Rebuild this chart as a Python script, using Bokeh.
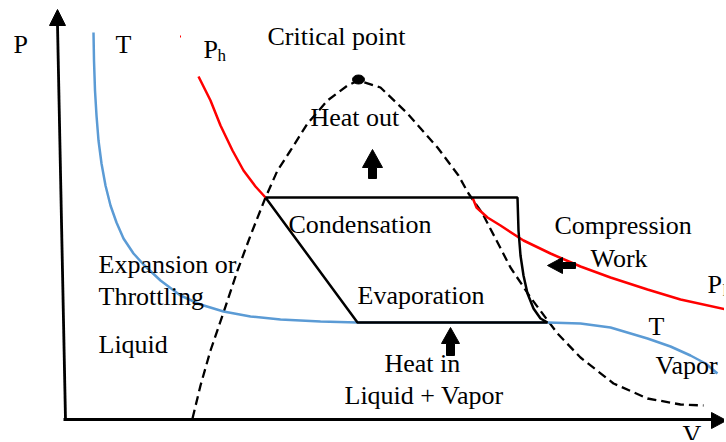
from bokeh.plotting import figure
from bokeh.models import Range1d
from bokeh.core.properties import value
from bokeh.embed import file_html
from bokeh.resources import INLINE

# ---- data (schematic coordinates, reference pixel space; y grows downward) ----
dome_x = [192, 200, 210, 223, 237, 250, 265, 277, 290, 307, 327, 347, 358, 380, 407, 437, 458, 468, 482, 510, 530, 557, 580, 613, 647, 680, 703]
dome_y = [418, 385, 350, 312, 270, 235, 197, 170, 150, 123, 100, 85, 80, 87, 113, 147, 175, 193, 213, 267, 297, 333, 357, 383, 398, 404, 405]

iso_T_left_x = [93, 93.5, 94.5, 96, 98, 101, 105, 110, 116, 123, 133, 143, 160, 180, 200, 223, 250, 280, 320, 357, 450, 547]
iso_T_left_y = [32, 60, 90, 115, 140, 163, 185, 205, 222, 238, 253, 264, 280, 295, 304, 311, 316, 319, 321, 322, 322, 322]
iso_T_right_x = [547, 580, 610, 647, 670, 690, 705, 717]
iso_T_right_y = [322, 323, 327, 338, 346, 355, 363, 373]

Ph_x = [198, 210, 220, 232, 243, 255, 265]
Ph_y = [76, 100, 125, 150, 170, 186, 197]
Pl_x = [472, 476, 487, 500, 523, 550, 580, 610, 647, 680, 726]
Pl_y = [197, 207, 217, 225, 240, 253, 266, 277, 289, 299, 309]
red_mark_x = [180, 180]
red_mark_y = [35, 37]

cycle_x = [265, 517, 518, 520, 523, 527, 533, 540, 547, 357, 265]
cycle_y = [197, 197, 230, 255, 275, 293, 308, 318, 322, 322, 197]

crit_x, crit_y = [358], [79]

yaxis_x = [65, 57]
yaxis_y = [419, 24]
xaxis_x = [63, 714]
xaxis_y = [419, 419]
yhead_x = [57, 49, 65]
yhead_y = [9, 25, 25]
xhead_x = [726, 711, 711]
xhead_y = [420, 412, 428]

arrow_out_x = [372, 382, 376, 376, 368, 368, 362]
arrow_out_y = [149, 167, 167, 178, 178, 167, 167]
arrow_in_x = [450, 459, 454, 454, 446, 446, 441]
arrow_in_y = [327, 343, 343, 355, 355, 343, 343]
arrow_work_x = [547, 562, 562, 575, 575, 562, 562]
arrow_work_y = [265, 257, 262, 262, 268, 268, 273]

labels = ["P", "T", "P", "Critical point", "Heat out", "Condensation", "Compression", "Work",
          "P", "Expansion or", "Throttling", "Liquid", "Evaporation", "Heat in",
          "Liquid + Vapor", "T", "Vapor", "V"]
label_x = [13, 115, 203, 267, 310, 288, 554, 590, 707, 98, 98, 98, 357, 384, 344, 648, 655, 682]
label_y = [44, 44, 49, 36, 117, 224, 225, 258, 284, 264, 296, 344, 295, 363, 395, 326, 365, 434]
sub_labels = ["h", "l"]
sub_x = [217, 722]
sub_y = [55, 290]

FONT = value("Liberation Serif")

p = figure(width=724, height=440, x_range=Range1d(0, 724), y_range=Range1d(440, 0),
           output_backend="svg", toolbar_location=None, min_border=0,
           x_axis_location=None, y_axis_location=None)
p.grid.visible = False
p.outline_line_color = None
p.background_fill_color = "white"
p.border_fill_color = "white"

p.line(dome_x, dome_y, line_color="black", line_width=2.3, line_dash="9 5")
p.line(iso_T_left_x, iso_T_left_y, line_color="#5B9BD5", line_width=2.5)
p.line(iso_T_right_x, iso_T_right_y, line_color="#5B9BD5", line_width=2.5)
p.line(Ph_x, Ph_y, line_color="#FF0000", line_width=2.5)
p.line(Pl_x, Pl_y, line_color="#FF0000", line_width=2.5)
p.line(red_mark_x, red_mark_y, line_color="#FF0000", line_width=1)
p.line(cycle_x, cycle_y, line_color="black", line_width=2.5)
p.ellipse(crit_x, crit_y, width=12, height=9, fill_color="black", line_color="black")

p.line(yaxis_x, yaxis_y, line_color="black", line_width=2.8)
p.line(xaxis_x, xaxis_y, line_color="black", line_width=2.8)
p.patches([yhead_x, xhead_x, arrow_out_x, arrow_in_x, arrow_work_x],
          [yhead_y, xhead_y, arrow_out_y, arrow_in_y, arrow_work_y],
          fill_color="black", line_color="black", line_width=1)

p.text(label_x, label_y, text=labels, text_font=FONT, text_font_size="26px",
       text_baseline="alphabetic", text_align="left", text_color="black")
p.text(sub_x, sub_y, text=sub_labels, text_font=FONT, text_font_size="17px",
       text_baseline="alphabetic", text_align="left", text_color="black")

open("out.html", "w").write(file_html(p, INLINE))
